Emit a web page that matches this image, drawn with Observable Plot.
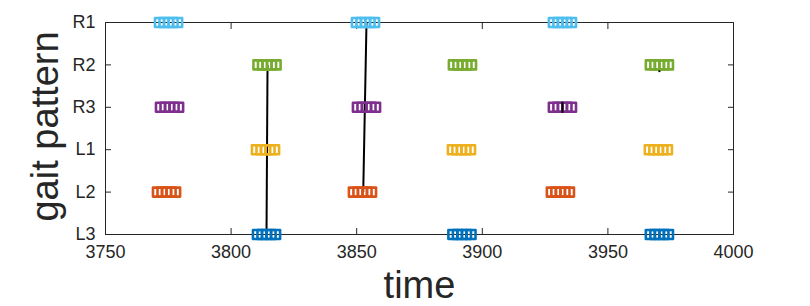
<!DOCTYPE html>
<html>
<head>
<meta charset="utf-8">
<script src="https://cdn.jsdelivr.net/npm/d3@7"></script>
<script src="https://cdn.jsdelivr.net/npm/@observablehq/plot@0.6"></script>
<style>
  html, body { margin: 0; padding: 0; background: #fff; }
  #chart svg { display: block; }
</style>
</head>
<body>
<div id="chart"></div>
<script>
// Row labels (top to bottom) and their colours
const rowLabels = ["R1", "R2", "R3", "L1", "L2", "L3"];
const rowColors = ["#4DBEEE", "#77AC30", "#7E2F8E", "#EDB120", "#D95319", "#0072BD"];

// Step (footfall) centre times for each row
const stepsR1 = [3775.1, 3853.5, 3931.9];
const stepsR2 = [3814.3, 3892.1, 3970.5];
const stepsR3 = [3775.5, 3853.9, 3931.9];
const stepsL1 = [3813.7, 3891.7, 3970.1];
const stepsL2 = [3774.3, 3852.3, 3931.1];
const stepsL3 = [3814.1, 3891.9, 3970.5];

// Connecting black lines: [time1, row1, time2, row2]
const links = [
  [3814.1, "L3", 3814.5, "R2"],
  [3852.6, "L2", 3853.9, "R1"]
];
// Short black marks: [time, rowLabel, offsetLow, offsetHigh] (row units)
const marks = [
  [3931.9, "R3", -0.13, 0.13],
  [3970.5, "R2", -0.17, -0.13]
];

const xTicks = [3750, 3800, 3850, 3900, 3950, 4000];

// marker sampling inside one step (style of the cluster)
const sampleOffsets = [-3.6, -1.8, 0, 1.8, 3.6];

const rowValue = l => rowLabels.length - rowLabels.indexOf(l); // R1=6 ... L3=1
const stepSets = [stepsR1, stepsR2, stepsR3, stepsL1, stepsL2, stepsL3];
const samples = [];
stepSets.forEach((steps, i) => {
  steps.forEach(t => sampleOffsets.forEach(o => samples.push({t: t + o, row: rowLabels[i], y: rowValue(rowLabels[i])})));
});
const linkData = links.map(([t1, r1, t2, r2]) => ({t1, y1: rowValue(r1), t2, y2: rowValue(r2)}));
const markData = marks.map(([t, r, a, b]) => ({t1: t, y1: rowValue(r) + a, t2: t, y2: rowValue(r) + b}));

const axisColor = "#262626";
const font = "'Liberation Sans', Arial, Helvetica, sans-serif";

const chart = Plot.plot({
  width: 810,
  height: 306,
  marginLeft: 105,
  marginRight: 77,
  marginTop: 22,
  marginBottom: 72,
  style: {fontFamily: font, color: axisColor, background: "#fff"},
  x: {domain: [3750, 4000]},
  y: {domain: [1, 6]},
  color: {domain: rowLabels, range: rowColors},
  marks: [
    Plot.frame({stroke: axisColor, strokeWidth: 1}),
    // tick labels
    Plot.axisX({anchor: "bottom", ticks: xTicks, tickFormat: d3.format("d"), tickSize: 0, tickPadding: 11, label: null, fontSize: 18, fill: axisColor}),
    Plot.axisY({anchor: "left", ticks: [1, 2, 3, 4, 5, 6], tickFormat: d => rowLabels[6 - d], tickSize: 0, tickPadding: 10, label: null, fontSize: 18, fill: axisColor}),
    // inward tick marks on all four sides
    Plot.axisX({anchor: "bottom", ticks: xTicks, tickSize: -6, tickFormat: () => "", label: null, stroke: axisColor}),
    Plot.axisX({anchor: "top", ticks: xTicks, tickSize: -6, tickFormat: () => "", label: null, stroke: axisColor}),
    Plot.axisY({anchor: "left", ticks: [1, 2, 3, 4, 5, 6], tickSize: -6, tickFormat: () => "", label: null, stroke: axisColor}),
    Plot.axisY({anchor: "right", ticks: [1, 2, 3, 4, 5, 6], tickSize: -6, tickFormat: () => "", label: null, stroke: axisColor}),
    // connecting lines
    Plot.link(linkData, {x1: "t1", y1: "y1", x2: "t2", y2: "y2", stroke: "#000", strokeWidth: 2}),
    // step markers
    Plot.dot(samples, {x: "t", y: "y", symbol: "square", r: 5.1, stroke: "row", fill: "none", strokeWidth: 2.6, strokeLinejoin: "round"}),
    Plot.link(markData, {x1: "t1", y1: "y1", x2: "t2", y2: "y2", stroke: "#000", strokeWidth: 2}),
    // axis titles
    Plot.text(["time"], {frameAnchor: "bottom", text: d => d, dy: 63, lineAnchor: "bottom", textAnchor: "middle", fontSize: 38, fill: axisColor}),
    Plot.text(["gait pattern"], {frameAnchor: "left", text: d => d, rotate: -90, dx: -48, dy: -2, lineAnchor: "bottom", textAnchor: "middle", fontSize: 38, fill: axisColor})
  ]
});
document.getElementById("chart").appendChild(chart);
</script>
</body>
</html>
